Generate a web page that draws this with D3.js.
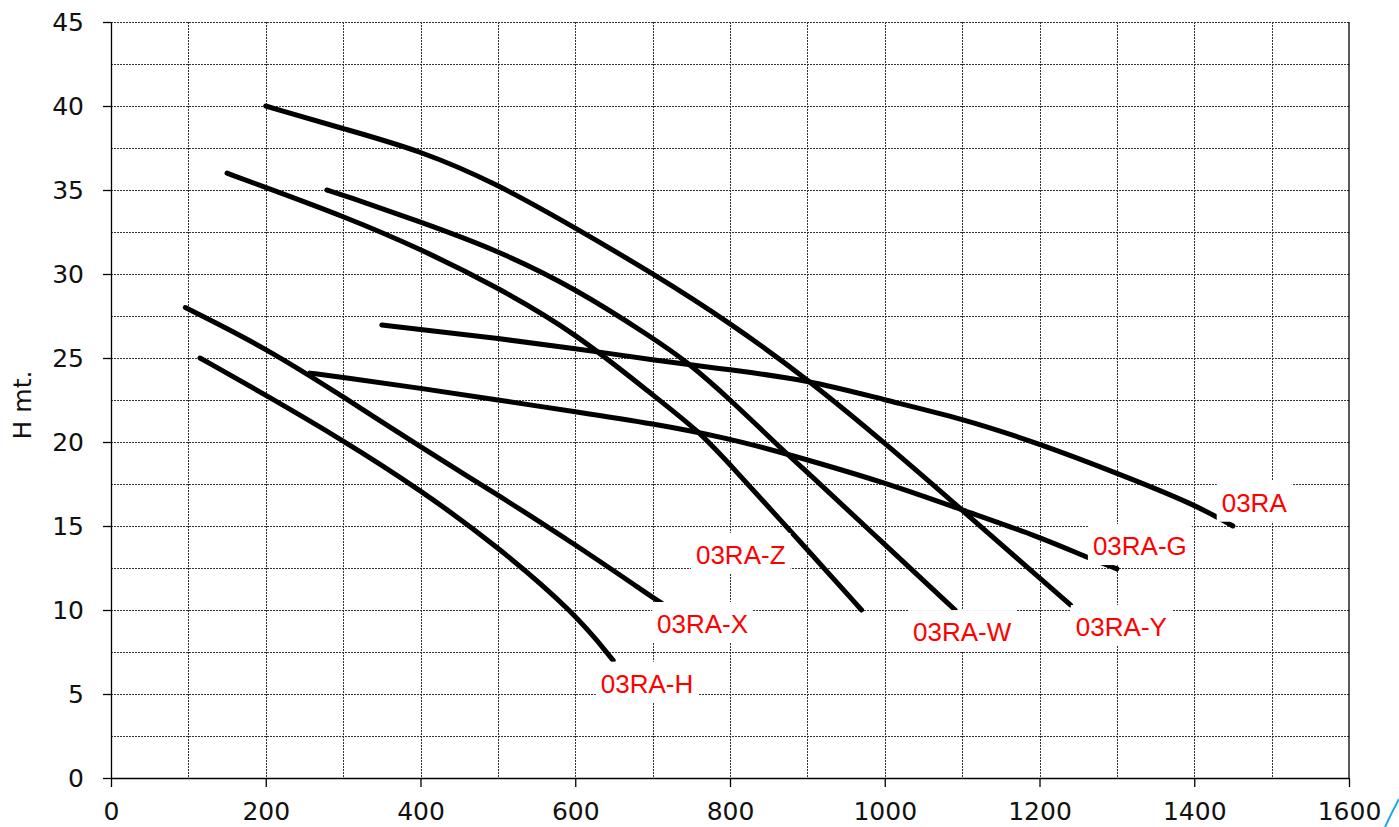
<!DOCTYPE html>
<html><head><meta charset="utf-8">
<script src="https://cdn.jsdelivr.net/npm/d3@7"></script>
<style>body{margin:0;background:#fff} svg{display:block}</style>
</head><body><svg id="c" width="1399" height="827"></svg>
<script>
// ---- data ----
const xTickValues = [0,200,400,600,800,1000,1200,1400,1600];
const yTickValues = [0,5,10,15,20,25,30,35,40,45];
const yAxisTitle = "H mt.";

const seriesNames = ["03RA","03RA-G","03RA-Y","03RA-W","03RA-Z","03RA-X","03RA-H"];

const flow03RA  = [350,400,500,600,700,800,900,1000,1100,1200,1300,1400,1450];
const head03RA  = [26.96,26.7,26.17,25.57,24.88,24.3,23.7,22.5,21.4,19.9,18.15,16.3,15.0];

const flow03RAG = [257,300,400,500,600,700,800,873,1000,1100,1200,1263,1300];
const head03RAG = [24.1,23.85,23.2,22.5,21.8,21.1,20.2,19.3,17.6,15.95,14.36,13.1,12.45];

const flow03RAY = [200,300,400,500,600,700,800,900,1000,1100,1200,1240];
const head03RAY = [40.0,38.65,37.35,35.35,32.75,30.04,27.1,23.75,19.95,15.95,11.9,10.3];

const flow03RAW = [279,300,400,500,600,700,744,800,873,900,1000,1091];
const head03RAW = [35.0,34.7,33.1,31.4,29.15,26.2,24.8,22.55,19.3,18.2,13.9,10.0];

const flow03RAZ = [150,200,300,400,500,600,700,761,800,900,970];
const head03RAZ = [36.0,35.15,33.45,31.5,29.2,26.5,22.8,20.6,18.65,13.6,10.0];

const flow03RAX = [96,200,300,400,500,600,700,712];
const head03RAX = [28.0,25.6,22.7,19.7,16.85,13.9,10.75,10.4];

const flow03RAH = [115,200,300,400,500,600,649];
const head03RAH = [25.0,22.8,20.1,17.15,13.77,9.8,7.0];

// label anchor (left, baseline) in data units
const labelFlow = [1435.5,1269,1247,1036.5,756,705.7,633];
const labelHead = [15.85,13.27,8.45,8.15,12.74,8.63,5.08];

const flows = [flow03RA,flow03RAG,flow03RAY,flow03RAW,flow03RAZ,flow03RAX,flow03RAH];
const heads = [head03RA,head03RAG,head03RAY,head03RAW,head03RAZ,head03RAX,head03RAH];

// ---- chart ----
const W=1399,H=827, m={l:111,t:22,r:50,b:49};
const svg=d3.select("#c");
const x=d3.scaleLinear().domain([0,1600]).range([m.l,W-m.r]);
const y=d3.scaleLinear().domain([0,45]).range([H-m.b,m.t]);

const grid=svg.append("g").attr("stroke","#333").attr("stroke-width",1).attr("stroke-dasharray","2,1").attr("shape-rendering","crispEdges");
grid.selectAll("line.v").data(d3.range(100,1600,100)).join("line")
  .attr("x1",d=>Math.round(x(d))+0.5).attr("x2",d=>Math.round(x(d))+0.5)
  .attr("y1",y(45)).attr("y2",y(0));
grid.selectAll("line.h").data(d3.range(2.5,45.01,2.5)).join("line")
  .attr("y1",d=>Math.round(y(d))+0.5).attr("y2",d=>Math.round(y(d))+0.5)
  .attr("x1",x(0)).attr("x2",x(1600));

// right border
svg.append("line").attr("x1",x(1600)).attr("x2",x(1600)).attr("y1",y(45)).attr("y2",y(0))
  .attr("stroke","#000").attr("stroke-width",1.3);

const fontAxis="'DejaVu Sans', Verdana, sans-serif";
const fmt=d3.format("d");
const gx=svg.append("g").attr("transform",`translate(0,${y(0)})`)
  .call(d3.axisBottom(x).tickValues(xTickValues).tickFormat(fmt).tickSize(9).tickSizeOuter(0).tickPadding(15));
const gy=svg.append("g").attr("transform",`translate(${x(0)},0)`)
  .call(d3.axisLeft(y).tickValues(yTickValues).tickFormat(fmt).tickSize(8).tickSizeOuter(0).tickPadding(19));
[gx,gy].forEach(g=>{
  g.selectAll("text").attr("font-family",fontAxis).attr("font-size",25).attr("fill","#111");
  g.selectAll("line,path").attr("stroke","#000").attr("stroke-width",1.3);
});

svg.append("text").attr("transform",`translate(31,405) rotate(-90)`)
  .attr("text-anchor","middle").attr("font-family",fontAxis).attr("font-size",25).attr("fill","#111")
  .text(yAxisTitle);

const line=d3.line().x(d=>x(d[0])).y(d=>y(d[1])).curve(d3.curveBasis);
const curves=svg.append("g");
flows.forEach((f,i)=>{
  const pts=f.map((v,j)=>[v,heads[i][j]]);
  curves.append("path").attr("d",line(pts)).attr("fill","none")
    .attr("stroke","#000").attr("stroke-width",5).attr("stroke-linecap","round").attr("stroke-linejoin","round");
});

const lg=svg.append("g");
seriesNames.forEach((name,i)=>{
  const g=lg.append("g");
  const rect=g.append("rect").attr("fill","#fff");
  const t=g.append("text").attr("x",x(labelFlow[i])).attr("y",y(labelHead[i]))
    .attr("font-family","'Liberation Sans', Arial, sans-serif").attr("font-size",26).attr("fill","#ff0000").text(name);
  const w=t.node().getComputedTextLength();
  rect.attr("x",x(labelFlow[i])-5).attr("width",w+10).attr("y",y(labelHead[i])-31).attr("height",41);
});

// decorative corner stroke
svg.append("path").attr("d","M1385,827 Q1392,812 1399,799").attr("fill","none").attr("stroke","#1ea7e8").attr("stroke-width",2);
</script></body></html>
